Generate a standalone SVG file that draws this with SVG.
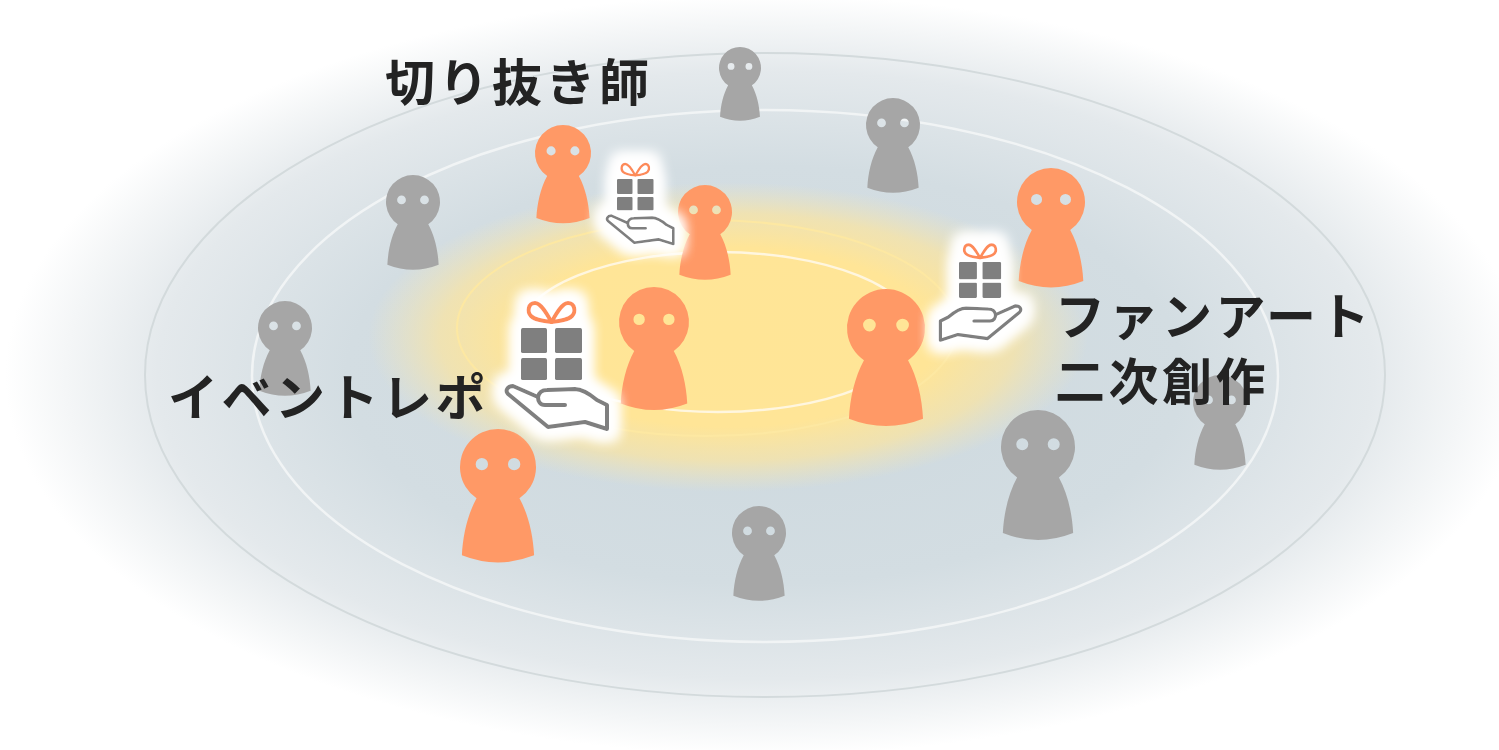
<svg xmlns="http://www.w3.org/2000/svg" xmlns:xlink="http://www.w3.org/1999/xlink" width="1499" height="750" viewBox="0 0 1499 750">
  <style>
    .label { font-family: "Noto Sans CJK JP", "Noto Sans", sans-serif; font-weight: 700; font-size: 50px; fill: #232323; letter-spacing: 3.5px; }
    .fan { fill: #ff9966; }
    .member { fill: #a6a6a6; }
    .box { fill: #7f7f7f; }
    .bow { fill: none; stroke: #fd8b58; stroke-width: 4; stroke-linejoin: round; }
    .hand { fill: #ffffff; stroke: #7f7f7f; stroke-width: 4; stroke-linejoin: round; stroke-linecap: round; }
    .ring-outer { fill: none; stroke: #d3dadc; stroke-width: 2; }
    .ring-mid { fill: none; stroke: #f1f4f5; stroke-width: 2.5; }
    .ring-warm { fill: none; stroke: #fde8a2; stroke-width: 2; }
    .ring-core { fill: none; stroke: #fff6df; stroke-width: 2.5; }
  </style>
  <defs>
    <radialGradient id="field" cx="765" cy="375" r="760" gradientUnits="userSpaceOnUse" gradientTransform="translate(765 375) scale(1 0.5) translate(-765 -375)">
      <stop offset="0" stop-color="#ccd8de"/>
      <stop offset="0.55" stop-color="#d3dde2"/>
      <stop offset="0.8" stop-color="#e4e9ec"/>
      <stop offset="0.92" stop-color="#f4f6f7"/>
      <stop offset="1" stop-color="#ffffff"/>
    </radialGradient>
    <radialGradient id="warm" cx="728" cy="337" r="360" gradientUnits="userSpaceOnUse" gradientTransform="translate(728 337) scale(1 0.43) translate(-728 -337)">
      <stop offset="0" stop-color="#ffe596" stop-opacity="1"/>
      <stop offset="0.58" stop-color="#ffe597" stop-opacity="1"/>
      <stop offset="0.8" stop-color="#fce59f" stop-opacity="0.7"/>
      <stop offset="1" stop-color="#f8e8b0" stop-opacity="0"/>
    </radialGradient>
    <filter id="halo" x="-50%" y="-50%" width="200%" height="200%">
      <feMorphology in="SourceAlpha" operator="dilate" radius="7" result="grown"/>
      <feGaussianBlur in="grown" stdDeviation="7" result="soft"/>
      <feFlood flood-color="#ffffff"/>
      <feComposite in2="soft" operator="in" result="glow"/>
      <feMerge>
        <feMergeNode in="glow"/>
        <feMergeNode in="glow"/>
        <feMergeNode in="glow"/>
        <feMergeNode in="SourceGraphic"/>
      </feMerge>
    </filter>
    <!-- pawn figure, head radius 40, head centre at origin; eyes are holes -->
    <path id="pawn" fill-rule="evenodd" d="M -22.6 33 A 40 40 0 1 1 22.6 33 C 32 50 37 72 38 93 Q 0 108 -38 93 C -37 72 -32 50 -22.6 33 Z M -10.5 -3 A 6.5 6.5 0 1 0 -23.5 -3 A 6.5 6.5 0 1 0 -10.5 -3 Z M 23.5 -3 A 6.5 6.5 0 1 0 10.5 -3 A 6.5 6.5 0 1 0 23.5 -3 Z"/>
    <!-- wrapped present, box top-left at origin -->
    <g id="present">
      <path class="bow" d="M 30.5 -6 C 26 -14 20 -25 14 -25 C 7 -25 6 -16 10 -12 C 14 -8 22 -7 30.5 -6 Z"/>
      <path class="bow" d="M 30.5 -6 C 35 -14 41 -25 47 -25 C 54 -25 55 -16 51 -12 C 47 -8 39 -7 30.5 -6 Z"/>
      <rect class="box" x="0" y="0" width="26" height="25" rx="1.5"/>
      <rect class="box" x="34" y="0" width="27" height="25" rx="1.5"/>
      <rect class="box" x="0" y="30" width="26" height="22" rx="1.5"/>
      <rect class="box" x="34" y="30" width="27" height="22" rx="1.5"/>
    </g>
    <!-- open palm, fingers to the left -->
    <g id="palm">
      <path class="hand" d="M 8 1 L 33 12 C 34 7 37 5 42 5 L 70 4 C 78 4 86 10 92 15 L 102 20 L 102 44 L 80 37 L 43 42 L 3 9 C 0 6 2 1 8 1 Z"/>
      <path class="hand" fill="none" d="M 60 20 L 40 20 C 35 20 33 16 33 12"/>
    </g>
  </defs>

  <g id="background">
    <rect x="0" y="0" width="1499" height="750" fill="#ffffff"/>
    <rect x="0" y="0" width="1499" height="750" fill="url(#field)"/>
    <ellipse cx="728" cy="337" rx="360" ry="155" fill="url(#warm)"/>
  </g>

  <g id="rings">
    <ellipse class="ring-outer" cx="765" cy="375" rx="620" ry="322"/>
    <ellipse class="ring-mid" cx="765" cy="376" rx="513" ry="266"/>
    <ellipse class="ring-warm" cx="707" cy="328" rx="250" ry="108"/>
    <ellipse class="ring-core" cx="718" cy="332" rx="198" ry="80"/>
  </g>

  <g id="connectors"/>

  <!-- community members (grey) -->
  <g id="member-1" class="member"><use xlink:href="#pawn" transform="translate(740 68) scale(0.525)"/></g>
  <g id="member-2" class="member"><use xlink:href="#pawn" transform="translate(893 125) scale(0.675)"/></g>
  <g id="member-3" class="member"><use xlink:href="#pawn" transform="translate(413 202) scale(0.675)"/></g>
  <g id="member-4" class="member"><use xlink:href="#pawn" transform="translate(285 328) scale(0.675)"/></g>
  <g id="member-5" class="member"><use xlink:href="#pawn" transform="translate(1220 402) scale(0.675)"/></g>
  <g id="member-6" class="member"><use xlink:href="#pawn" transform="translate(1038 447) scale(0.925)"/></g>
  <g id="member-7" class="member"><use xlink:href="#pawn" transform="translate(759 533) scale(0.675)"/></g>

  <!-- active creators (orange) -->
  <g id="creator-1" class="fan"><use xlink:href="#pawn" transform="translate(563 153) scale(0.7)"/></g>
  <g id="creator-2" class="fan"><use xlink:href="#pawn" transform="translate(705 212) scale(0.675)"/></g>
  <g id="creator-3" class="fan"><use xlink:href="#pawn" transform="translate(654 322) scale(0.875)"/></g>
  <g id="creator-4" class="fan"><use xlink:href="#pawn" transform="translate(886 328) scale(0.975)"/></g>
  <g id="creator-5" class="fan"><use xlink:href="#pawn" transform="translate(1051 202) scale(0.85)"/></g>
  <g id="creator-6" class="fan"><use xlink:href="#pawn" transform="translate(498 467) scale(0.95)"/></g>

  <!-- gifts being offered -->
  <g id="gift-clips" filter="url(#halo)">
    <use xlink:href="#present" transform="translate(617 179) scale(0.6)"/>
    <use xlink:href="#palm" transform="translate(606 215) scale(0.66)"/>
  </g>
  <g id="gift-fanart" filter="url(#halo)">
    <use xlink:href="#present" transform="translate(959 262) scale(0.69)"/>
    <use xlink:href="#palm" transform="translate(1022 305) scale(-0.8 0.8)"/>
  </g>
  <g id="gift-report" filter="url(#halo)">
    <use xlink:href="#present" transform="translate(521 328)"/>
    <use xlink:href="#palm" transform="translate(505 385)"/>
  </g>

  <!-- labels -->
  <g id="label-clips"><text class="label" x="385" y="101">切り抜き師</text></g>
  <g id="label-report"><text class="label" x="168" y="416">イベントレポ</text></g>
  <g id="label-fanart">
    <text class="label" x="1055" y="335">ファンアート</text>
    <text class="label" x="1055" y="400">二次創作</text>
  </g>
</svg>
